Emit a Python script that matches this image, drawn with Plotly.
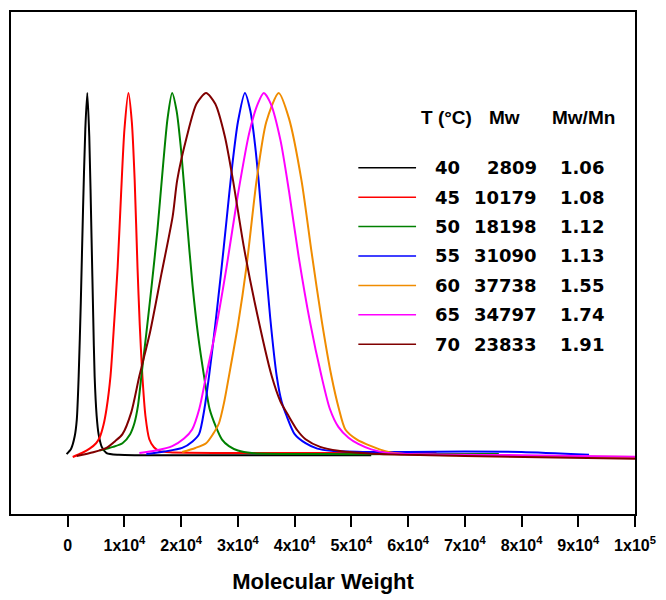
import plotly.graph_objects as go

# ---------------- data ----------------
temps = [40, 45, 50, 55, 60, 65, 70]
mw_vals = [2809, 10179, 18198, 31090, 37738, 34797, 23833]
pdi_vals = ["1.06", "1.08", "1.12", "1.13", "1.55", "1.74", "1.91"]
colors = ["#000000", "#FF0000", "#008000", "#0000FF", "#F08C00", "#FF00FF", "#800000"]

x40 = [-200, 600, 1230, 1600, 1930, 2300, 2700, 3100, 3450, 3800, 4200, 4500, 4740, 5100, 5440, 6000, 6840, 9000, 30000, 53500]
y40 = [0.005, 0.02, 0.054, 0.10, 0.22, 0.42, 0.68, 0.90, 1.0, 0.88, 0.60, 0.38, 0.22, 0.11, 0.06, 0.025, 0.008, 0.003, 0.002, 0.002]

x45 = [880, 2500, 3860, 5000, 5610, 6300, 6840, 7540, 8200, 8800, 9400, 10000, 10700, 11300, 11800, 12300, 12700, 13160, 13700, 14380, 15200, 16140, 18000, 30000, 50000, 65000]
y45 = [-0.003, 0.008, 0.02, 0.035, 0.05, 0.085, 0.13, 0.22, 0.37, 0.52, 0.72, 0.90, 1.0, 0.92, 0.76, 0.52, 0.36, 0.22, 0.11, 0.046, 0.024, 0.014, 0.01, 0.008, 0.008, 0.008]

x50 = [5600, 8000, 9650, 11000, 11750, 12400, 12980, 13800, 14800, 15800, 16800, 17600, 18400, 19200, 20000, 21000, 22000, 23000, 24030, 25000, 26130, 27200, 28420, 30000, 32450, 45000, 60000, 76000]
y50 = [0.015, 0.025, 0.035, 0.06, 0.09, 0.14, 0.22, 0.33, 0.47, 0.62, 0.80, 0.93, 1.0, 0.95, 0.84, 0.65, 0.47, 0.33, 0.22, 0.13, 0.08, 0.045, 0.027, 0.015, 0.008, 0.005, 0.005, 0.005]

x55 = [13860, 17000, 20170, 22000, 23150, 24100, 24910, 26000, 27000, 28000, 29000, 30000, 31230, 32200, 33000, 33700, 34700, 35700, 36840, 37700, 38590, 40000, 41920, 44000, 46480, 52000, 60000, 70000, 80000, 91900]
y55 = [0.005, 0.012, 0.022, 0.04, 0.06, 0.13, 0.22, 0.36, 0.50, 0.65, 0.80, 0.92, 1.0, 0.95, 0.86, 0.75, 0.56, 0.38, 0.22, 0.15, 0.11, 0.06, 0.035, 0.02, 0.014, 0.011, 0.011, 0.012, 0.011, 0.003]

x60 = [20170, 22500, 24390, 25600, 26660, 27600, 28420, 30000, 31500, 33300, 35000, 37190, 39000, 41200, 43000, 44800, 46480, 47800, 48940, 51000, 53500, 56000, 59460, 75000, 100000]
y60 = [0.011, 0.022, 0.035, 0.06, 0.09, 0.15, 0.22, 0.36, 0.52, 0.76, 0.92, 1.0, 0.93, 0.76, 0.56, 0.37, 0.22, 0.13, 0.073, 0.045, 0.027, 0.013, 0.005, 0.0, -0.003]

x65 = [12630, 15500, 18420, 20500, 21930, 23200, 24390, 26000, 28000, 30000, 32000, 33500, 34560, 35800, 37500, 39000, 40700, 42700, 44730, 46200, 47710, 49500, 51220, 53500, 56490, 65000, 80000, 100000]
y65 = [0.008, 0.015, 0.027, 0.048, 0.073, 0.13, 0.22, 0.34, 0.52, 0.72, 0.89, 0.97, 1.0, 0.97, 0.87, 0.73, 0.55, 0.37, 0.22, 0.13, 0.08, 0.05, 0.033, 0.018, 0.008, 0.004, 0.002, -0.002]

x70 = [1580, 4500, 6840, 8300, 9650, 11200, 12630, 14500, 16500, 18500, 19300, 21000, 22700, 24390, 26000, 27700, 29130, 31000, 33000, 35960, 37500, 38940, 40500, 41920, 44500, 47710, 55000, 70000, 100000]
y70 = [0.0, 0.01, 0.022, 0.04, 0.06, 0.12, 0.22, 0.34, 0.50, 0.66, 0.76, 0.88, 0.97, 1.0, 0.97, 0.88, 0.76, 0.58, 0.42, 0.22, 0.15, 0.11, 0.07, 0.046, 0.025, 0.014, 0.005, 0.0, -0.008]

xs = [x40, x45, x50, x55, x60, x65, x70]
ys = [y40, y45, y50, y55, y60, y65, y70]

tick_vals = [0, 10000, 20000, 30000, 40000, 50000, 60000, 70000, 80000, 90000, 100000]
tick_text = ["0", "1x10<sup>4</sup>", "2x10<sup>4</sup>", "3x10<sup>4</sup>", "4x10<sup>4</sup>",
             "5x10<sup>4</sup>", "6x10<sup>4</sup>", "7x10<sup>4</sup>", "8x10<sup>4</sup>",
             "9x10<sup>4</sup>", "1x10<sup>5</sup>"]

# ---------------- figure ----------------
W, H = 666, 600
L, R, T, B = 11, 638, 10, 519
FONT = "Liberation Sans, Arial, sans-serif"
FONT_WIDE = "DejaVu Sans, Liberation Sans, sans-serif"

def px(x):
    return (x - L) / (R - L)

def py(y):
    return (B - y) / (B - T)

fig = go.Figure()
for i in range(len(temps)):
    fig.add_trace(go.Scatter(x=xs[i], y=ys[i], mode="lines",
                             line=dict(color=colors[i], width=2, shape="spline", smoothing=0.7),
                             showlegend=False, hoverinfo="skip"))

# custom legend table
annotations = []
shapes = []
hdr_y = 117
for txt, cx in [("T (°C)", 449), ("Mw", 507), ("Mw/Mn", 586)]:
    annotations.append(dict(x=px(cx), y=py(hdr_y), text=f"<b>{txt}</b>", showarrow=False,
                            xref="paper", yref="paper", xanchor="center", yanchor="middle",
                            font=dict(family=FONT, size=19, color="black")))
for i in range(len(temps)):
    yy = 168 + 29.8 * i
    shapes.append(dict(type="line", xref="paper", yref="paper",
                       x0=px(360), x1=px(418), y0=py(yy), y1=py(yy),
                       line=dict(color=colors[i], width=1.5)))
    annotations.append(dict(x=px(464), y=py(yy), text=f"<b>{temps[i]}</b>", showarrow=False,
                            xref="paper", yref="paper", xanchor="right", yanchor="middle",
                            font=dict(family=FONT_WIDE, size=18, color="black")))
    annotations.append(dict(x=px(542), y=py(yy), text=f"<b>{mw_vals[i]}</b>", showarrow=False,
                            xref="paper", yref="paper", xanchor="right", yanchor="middle",
                            font=dict(family=FONT_WIDE, size=18, color="black")))
    annotations.append(dict(x=px(585), y=py(yy), text=f"<b>{pdi_vals[i]}</b>", showarrow=False,
                            xref="paper", yref="paper", xanchor="center", yanchor="middle",
                            font=dict(family=FONT_WIDE, size=18, color="black")))

fig.update_layout(
    width=W, height=H,
    margin=dict(l=L, r=W - R, t=T, b=H - B, pad=0),
    plot_bgcolor="white", paper_bgcolor="white",
    annotations=annotations, shapes=shapes,
    xaxis=dict(range=[-10000, 100000], showgrid=False, zeroline=False,
               showline=True, linecolor="black", linewidth=2, mirror=True,
               ticks="outside", ticklen=11, tickwidth=1.5, tickcolor="black",
               tickvals=tick_vals, ticktext=tick_text, ticklabelstandoff=5,
               tickfont=dict(family=FONT, size=16, color="black", weight="bold"),
               title=dict(text="<b>Molecular Weight</b>", standoff=20,
                          font=dict(family=FONT, size=22, color="black"))),
    yaxis=dict(range=[-0.16, 1.223], showgrid=False, zeroline=False,
               showline=True, linecolor="black", linewidth=2, mirror=True,
               showticklabels=False, ticks=""),
)

fig.write_html("out.html")
